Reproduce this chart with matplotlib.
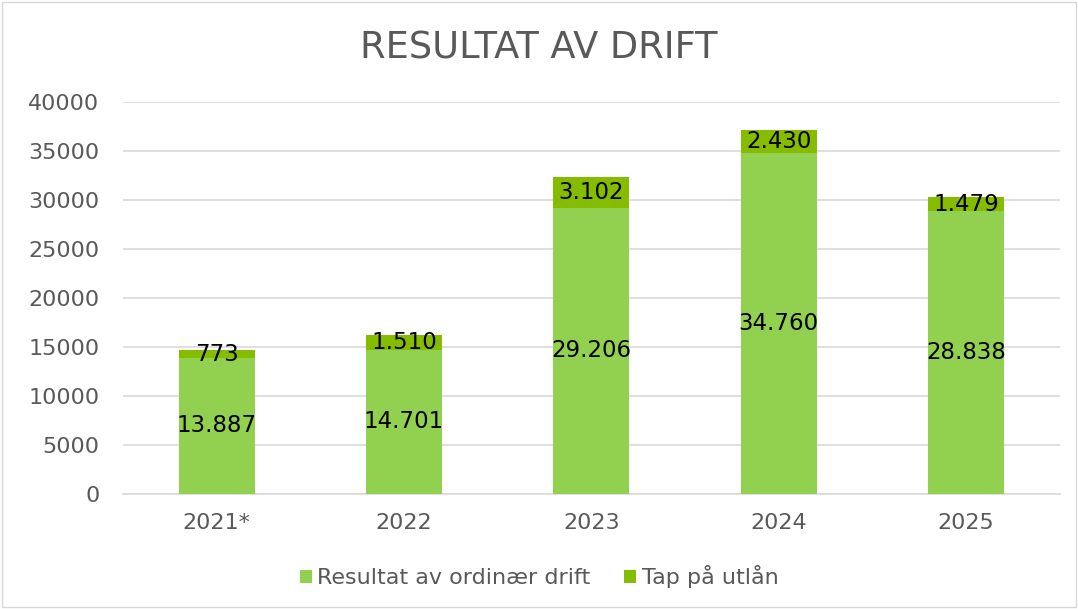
import matplotlib.pyplot as plt
import numpy as np
from matplotlib.patches import Rectangle

# data
years = ['2021*', '2022', '2023', '2024', '2025']
drift = [13887, 14701, 29206, 34760, 28838]
tap = [773, 1510, 3102, 2430, 1479]
drift_lbl = ['13.887', '14.701', '29.206', '34.760', '28.838']
tap_lbl = ['773', '1.510', '3.102', '2.430', '1.479']

c_drift = '#92D050'
c_tap = '#86BC00'
grey = '#595959'

fig = plt.figure(figsize=(10.78, 6.09), dpi=100)
ax = fig.add_axes([0.114, 0.189, 0.869, 0.6435])

x = np.arange(len(years))
w = 0.405
b1 = ax.bar(x, drift, w, color=c_drift, label='Resultat av ordinær drift', zorder=3)
b2 = ax.bar(x, tap, w, bottom=drift, color=c_tap, label='Tap på utlån', zorder=3)

for i in range(len(years)):
    ax.text(x[i], drift[i]/2, drift_lbl[i], ha='center', va='center', fontsize=16.5, color='black', zorder=4)
    ax.text(x[i], drift[i]+tap[i]/2, tap_lbl[i], ha='center', va='center', fontsize=16.5, color='black', zorder=4)

ax.set_xlim(-0.5, 4.5)
ax.set_ylim(0, 40000)
ax.set_yticks(np.arange(0, 40001, 5000))
ax.set_xticks(x)
ax.set_xticklabels(years)
ax.tick_params(axis='both', length=0, labelsize=16, colors=grey)
ax.tick_params(axis='x', pad=14)
ax.tick_params(axis='y', pad=17)
ax.grid(axis='y', color='#D9D9D9', linewidth=1.2, zorder=0)
for s in ['top', 'right', 'left']:
    ax.spines[s].set_visible(False)
ax.spines['bottom'].set_color('#D9D9D9')
ax.spines['bottom'].set_linewidth(1.2)

fig.text(0.5, 0.921, 'RESULTAT AV DRIFT', ha='center', va='center', fontsize=26.5, color=grey)

fig.legend(handles=[b1, b2], loc='center', bbox_to_anchor=(0.5, 0.053), ncol=2, frameon=False,
           fontsize=16, labelcolor=grey, handlelength=0.55, handleheight=0.55, handletextpad=0.25,
           columnspacing=1.5)

# thin border around the chart area
fig.patches.append(Rectangle((0.002, 0.003), 0.996, 0.994, transform=fig.transFigure,
                             fill=False, edgecolor='#D9D9D9', linewidth=1))

plt.savefig('out.png', dpi=100)
